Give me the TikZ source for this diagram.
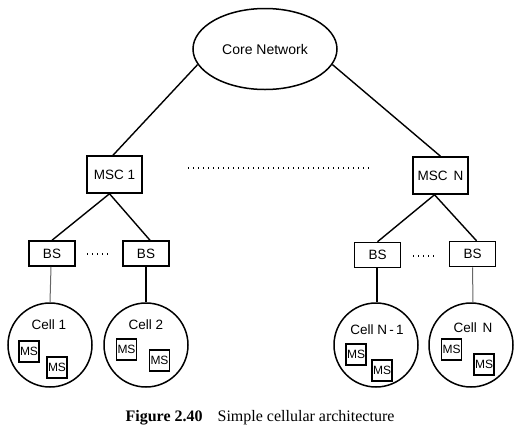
\documentclass[tikz,border=0pt]{standalone}
\usepackage{fontspec}
\setmainfont{Liberation Serif}
\newfontfamily\arialf{Liberation Sans}
\usetikzlibrary{shapes.geometric}
\tikzset{
  box/.style={draw, line width=1.5pt, inner sep=0pt, font=\arialf\fontsize{13.5}{15}\selectfont},
  mscbox/.style={box, minimum width=55pt, minimum height=37pt},
  bsbox/.style={box, minimum width=46pt, minimum height=25pt},
  msbox/.style={box, line width=1.1pt, minimum width=20pt, minimum height=21pt, font=\arialf\fontsize{12}{13}\selectfont},
  cellc/.style={draw, circle, line width=1.5pt, minimum size=84pt, inner sep=0pt},
  celltxt/.style={font=\arialf\fontsize{13.5}{15}\selectfont, inner sep=0pt},
  link/.style={line width=1.4pt},
  thinlink/.style={line width=1pt, black!60},
  dots/.style={line width=1.1pt, dash pattern=on 1pt off 4pt}
}
\begin{document}
\begin{tikzpicture}[x=1pt,y=-1pt]
\useasboundingbox (0,0) rectangle (522,432);
\node[draw, ellipse, line width=1.5pt, minimum width=144pt, minimum height=81pt, inner sep=0pt,
      font=\arialf\fontsize{14}{16}\selectfont] (core) at (265,49) {Core Network};
\node[mscbox] (msc1) at (114.5,174.5) {MSC 1};
\node[mscbox] (mscN) at (440.5,175.5) {MSC\, N};
\node[bsbox] (bs1) at (52,253.5) {BS};
\node[bsbox] (bs2) at (146,253.5) {BS};
\node[bsbox] (bs3) at (377.5,255) {BS};
\node[bsbox] (bs4) at (472.5,254) {BS};
\node[cellc] (c1) at (50,345) {};
\node[cellc] (c2) at (146,345) {};
\node[cellc] (c3) at (376,345) {};
\node[cellc] (c4) at (471,345) {};
\node[celltxt] (t1) at (49,325) {Cell 1};
\node[celltxt] (t2) at (146,325) {Cell 2};
\node[celltxt] (t3) at (377,330) {Cell N\,-\,1};
\node[celltxt] (t4) at (473,328) {Cell\, N};
\node[msbox] (m1a) at (29,351.5) {MS};
\node[msbox] (m1b) at (57,367.5) {MS};
\node[msbox] (m2a) at (126.5,349.5) {MS};
\node[msbox] (m2b) at (159.5,360.5) {MS};
\node[msbox] (m3a) at (356,354.5) {MS};
\node[msbox] (m3b) at (382,370.5) {MS};
\node[msbox] (m4a) at (451.5,349.5) {MS};
\node[msbox] (m4b) at (484,364.5) {MS};
% connectors
\draw[link] (core.193) -- ([xshift=-1.5pt]msc1.north);
\draw[link] (core.347) -- (mscN.north);
\draw[link] ([xshift=-5pt]msc1.south) -- (bs1.north);
\draw[link] ([xshift=-5pt]msc1.south) -- ([xshift=4pt]bs2.north);
\draw[link] ([xshift=-6pt]mscN.south) -- (bs3.north);
\draw[link] ([xshift=-6pt]mscN.south) -- ([xshift=4pt]bs4.north);
\draw[thinlink] ([xshift=-1pt]bs1.south) -- (c1.north);
\draw[link] (bs2.south) -- (c2.north);
\draw[link] ([xshift=-0.5pt]bs3.south) -- ([xshift=1pt]c3.north);
\draw[thinlink] (bs4.south) -- ([xshift=2pt]c4.north);
% dotted gaps
\coordinate (d1a) at (188,168);
\coordinate (d1b) at (371,168);
\draw[dots] (d1a) -- (d1b);
\coordinate (d2a) at (87,254);
\coordinate (d2b) at (111,254);
\draw[dots] (d2a) -- (d2b);
\coordinate (d3a) at (413,256);
\coordinate (d3b) at (437,256);
\draw[dots] (d3a) -- (d3b);
% caption
\node[font=\fontsize{16}{18}\selectfont, inner sep=0pt] (cap) at (260,418) {\textbf{Figure 2.40}\hspace{15pt}Simple cellular architecture};
\end{tikzpicture}
\end{document}
